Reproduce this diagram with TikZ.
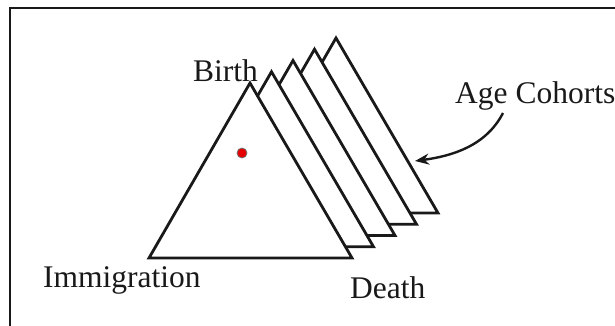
\documentclass[tikz,border=0pt]{standalone}
\usepackage{fontspec}
\setmainfont{Liberation Serif}
\usetikzlibrary{arrows.meta, calc}
\tikzset{
  cohort/.style={draw=black!90, line width=2.8pt, fill=white},
  lbl/.style={inner sep=0pt, anchor=base west, text=black!90,
              font=\fontsize{31.5}{36}\selectfont},
  arr/.style={-{Stealth[length=14pt, width=11pt]}, line width=2.4pt, black!90},
  frame/.style={draw=black!90, line width=2.5pt},
}
\begin{document}
\begin{tikzpicture}[x=1pt, y=-1pt]
  \useasboundingbox (0,0) rectangle (615,325);
  %% Frame
  \begin{scope}
    \clip (0,0) rectangle (615,325);
    \draw[frame] (10,8) rectangle (640,350);
  \end{scope}
  %% Age cohorts (back to front)
  \foreach \k in {4,3,2,1,0}
    \draw[cohort, shift={(21.5*\k,-11.25*\k)}]
      (250,83) -- (352,258) -- (149,258) -- cycle;
  %% Individual
  \node[circle, fill=red!90!black, draw=black!55, line width=0.8pt,
        minimum size=10pt, inner sep=0pt] (ind) at (242,153) {};
  %% Labels
  \node[lbl] (birth)   at (193,81)  {Birth};
  \node[lbl] (immig)   at (43,287)  {Immigration};
  \node[lbl] (death)   at (350,298) {Death};
  \node[lbl] (cohorts) at (455,103) {Age Cohorts};
  %% Pointer
  \coordinate (tail) at (503,113);
  \coordinate (tip)  at (415,161);
  \draw[arr] (tail) .. controls (486,146) and (452,156) .. (tip);
\end{tikzpicture}
\end{document}
